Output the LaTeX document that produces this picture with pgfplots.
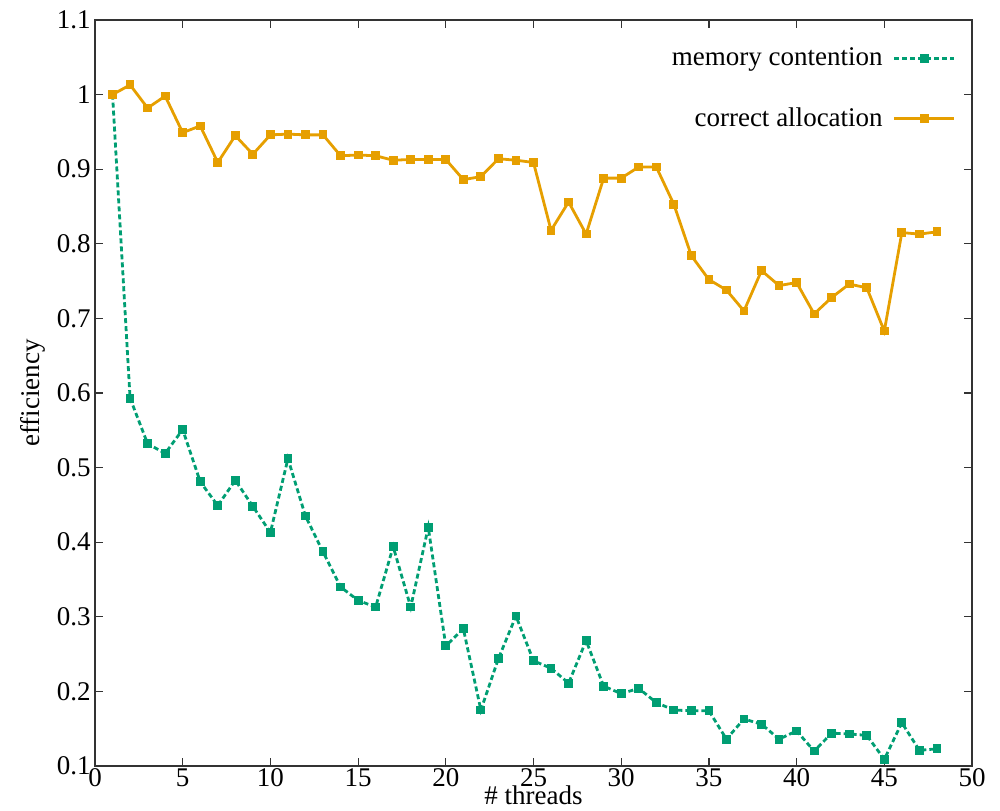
\documentclass[border=0pt]{standalone}
\usepackage{fontspec}
\setmainfont{Liberation Serif}
\usepackage{pgfplots}
\pgfplotsset{compat=1.18}
\definecolor{gpgreen}{HTML}{009E73}
\definecolor{gporange}{HTML}{E69F00}
\begin{document}
\begin{tikzpicture}
\begin{axis}[
  scale only axis,
  width=438.5pt, height=373pt,
  xmin=0, xmax=50, ymin=0.1, ymax=1.1,
  xtick={0,5,...,50},
  ytick={0.1,0.2,0.3,0.4,0.5,0.6,0.7,0.8,0.9,1.0,1.1},
  yticklabels={0.1,0.2,0.3,0.4,0.5,0.6,0.7,0.8,0.9,1,1.1},
  /pgf/number format/assume math mode=true,
  font=\fontsize{13.5}{16}\selectfont,
  tick label style={font=\fontsize{13.5}{16}\selectfont},
  tick align=inside,
  major tick length=4pt,
  axis line style={line width=0.8pt, black!80},
  every tick/.style={black!80, line width=0.6pt},
  xticklabel style={inner sep=1pt},
  yticklabel style={inner sep=2pt},
  xlabel={\# threads},
  ylabel={efficiency},
  every axis x label/.style={at={(axis description cs:0.5,-0.039)}, anchor=center},
  every axis y label/.style={at={(axis description cs:-0.071,0.5)}, anchor=center, rotate=90},
  legend plot pos=right,
  legend cell align=right,
  legend style={draw=none, fill=none, at={(axis description cs:0.982,0.971)}, anchor=north east, row sep=13.5pt, column sep=2pt, inner sep=0pt,
    nodes={inner sep=3pt}},
  legend image code/.code={\draw[mark repeat=2,mark phase=2,#1] plot coordinates {(0cm,0cm) (0.53cm,0cm) (1.06cm,0cm)};},
]
\addplot[gpgreen, line width=1.4pt, dash pattern=on 2.5pt off 1.5pt, mark=square*, mark size=1.5pt, mark options={solid}]
coordinates {
(1,1.000)(2,0.593)(3,0.532)(4,0.519)(5,0.551)(6,0.481)(7,0.449)(8,0.483)(9,0.448)(10,0.413)
(11,0.512)(12,0.435)(13,0.387)(14,0.340)(15,0.322)(16,0.313)(17,0.394)(18,0.313)(19,0.420)(20,0.261)
(21,0.284)(22,0.175)(23,0.244)(24,0.301)(25,0.241)(26,0.231)(27,0.211)(28,0.268)(29,0.207)(30,0.197)
(31,0.204)(32,0.185)(33,0.175)(34,0.174)(35,0.174)(36,0.136)(37,0.163)(38,0.156)(39,0.136)(40,0.147)
(41,0.120)(42,0.144)(43,0.143)(44,0.141)(45,0.109)(46,0.158)(47,0.121)(48,0.123)
};
\addlegendentry{memory contention}
\addplot[gporange, line width=1.4pt, mark=square*, mark size=1.5pt]
coordinates {
(1,1.000)(2,1.013)(3,0.982)(4,0.998)(5,0.949)(6,0.958)(7,0.909)(8,0.945)(9,0.920)(10,0.946)
(11,0.947)(12,0.946)(13,0.946)(14,0.918)(15,0.919)(16,0.918)(17,0.912)(18,0.913)(19,0.913)(20,0.913)
(21,0.886)(22,0.890)(23,0.914)(24,0.912)(25,0.909)(26,0.818)(27,0.856)(28,0.813)(29,0.888)(30,0.888)
(31,0.903)(32,0.903)(33,0.853)(34,0.784)(35,0.752)(36,0.738)(37,0.710)(38,0.764)(39,0.744)(40,0.748)
(41,0.706)(42,0.728)(43,0.746)(44,0.741)(45,0.683)(46,0.815)(47,0.813)(48,0.816)
};
\addlegendentry{correct allocation}
\end{axis}
\pgfresetboundingbox
\path[use as bounding box] ([shift={(-47.5pt,-22.5pt)}]current axis.south west) rectangle ([shift={(14pt,10pt)}]current axis.north east);
\end{tikzpicture}
\end{document}
